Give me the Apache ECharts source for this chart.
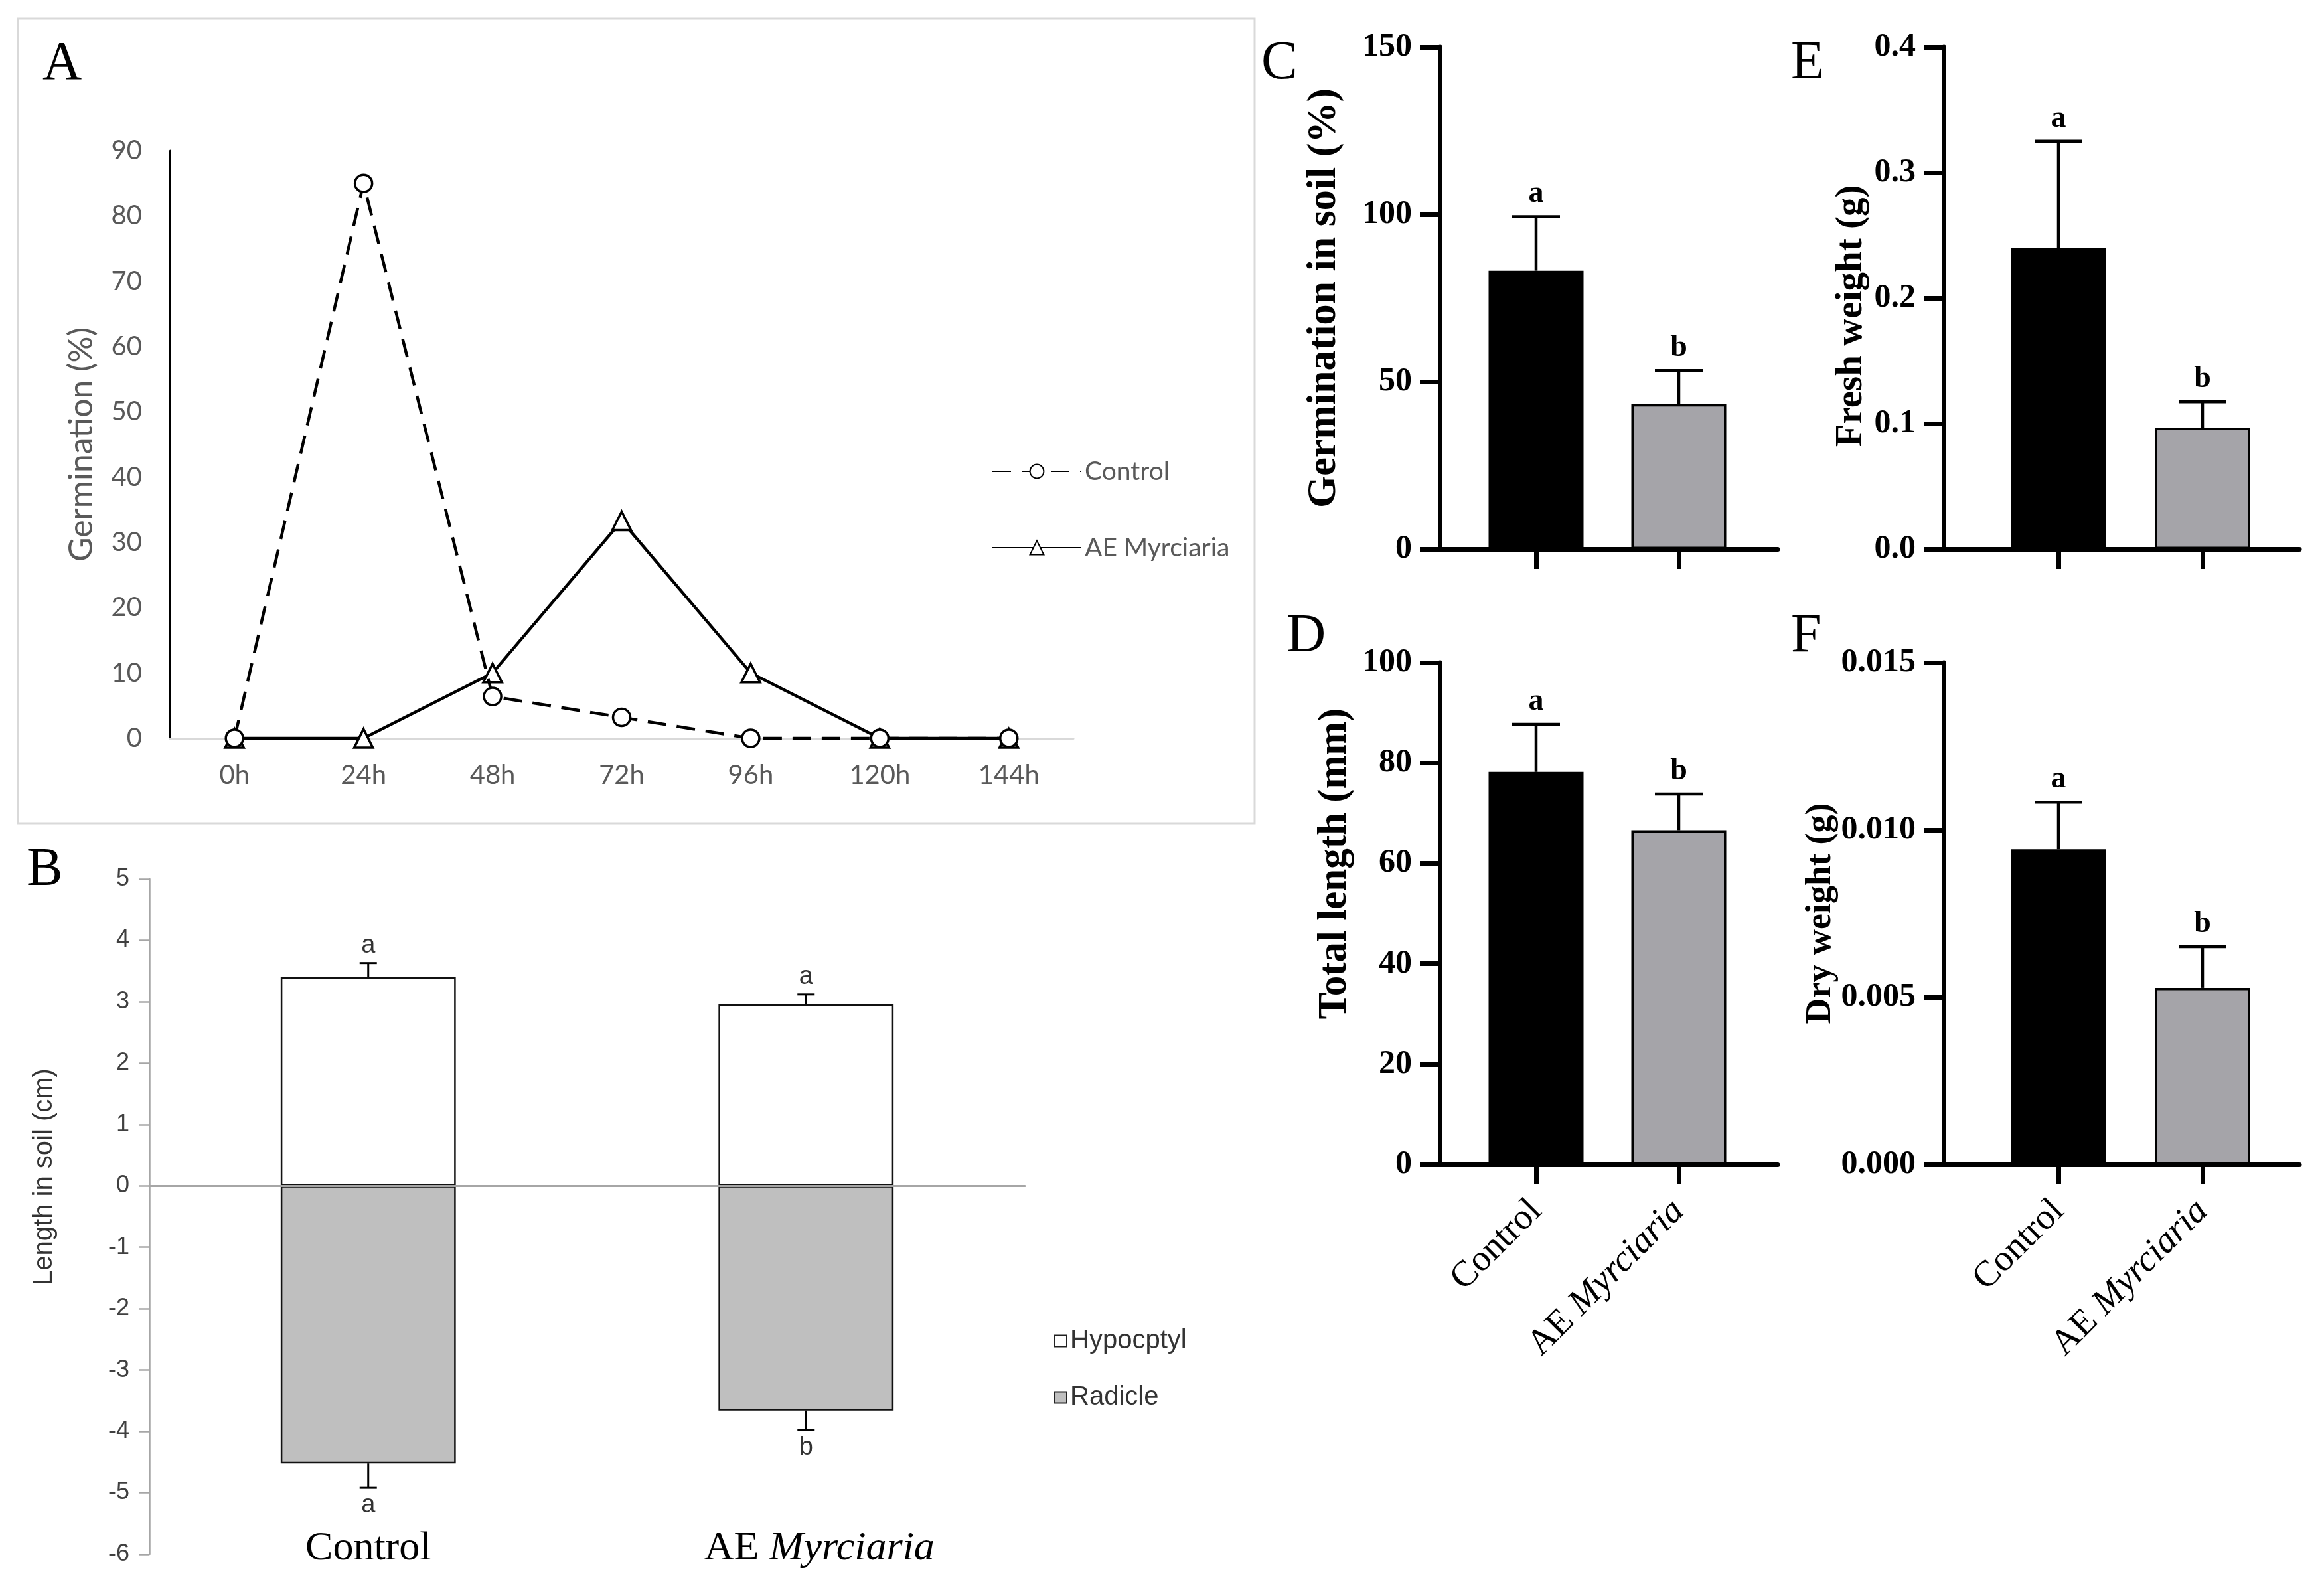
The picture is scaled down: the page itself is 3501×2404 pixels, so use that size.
<!DOCTYPE html>
<html>
<head>
<meta charset="utf-8">
<script src="https://cdn.jsdelivr.net/npm/echarts@6/dist/echarts.min.js"></script>
<style>
html,body{margin:0;padding:0;background:#fff;}
#chart{width:3501px;height:2404px;}
</style>
</head>
<body>
<div id="chart"></div>
<script>
// ---------- DATA ----------
// Panel A: germination over time
const hoursA = ['0h','24h','48h','72h','96h','120h','144h'];
const controlA = [0, 85, 6.4, 3.2, 0, 0, 0];
const aeA = [0, 0, 10, 33.3, 10, 0, 0];
const seriesNamesA = ['Control', 'AE Myrciaria'];

// Panel B: length in soil (cm)
const groupsB = ['Control', 'AE Myrciaria'];
const hypocotylB = [3.40, 2.96];
const hypocotylErrB = [0.23, 0.16];
const hypocotylSigB = ['a', 'a'];
const radicleB = [-4.52, -3.66];
const radicleErrB = [0.40, 0.32];
const radicleSigB = ['a', 'b'];
const seriesNamesB = ['Hypocptyl', 'Radicle'];

// Panels C-F
const groups = ['Control', 'AE Myrciaria'];
const germSoilC = [83.2, 43.3];
const germSoilErrC = [16.1, 10.0];
const germSoilSigC = ['a', 'b'];
const totalLenD = [78.2, 66.6];
const totalLenErrD = [9.5, 7.2];
const totalLenSigD = ['a', 'b'];
const freshWtE = [0.240, 0.0967];
const freshWtErrE = [0.085, 0.0206];
const freshWtSigE = ['a', 'b'];
const dryWtF = [0.00942, 0.00528];
const dryWtErrF = [0.00141, 0.00123];
const dryWtSigF = ['a', 'b'];

// ---------- STYLE ----------
const SERIF = '"Liberation Serif", "Times New Roman", serif';
const SANS = '"Liberation Sans", Arial, sans-serif';
const CAL = 'Lato, "Open Sans", sans-serif';
const barFills = ['#000000', '#a5a4a9'];

const chart = echarts.init(document.getElementById('chart'), null, {renderer: 'canvas'});

const grids = [], xAxes = [], yAxes = [], series = [];

function errSeries(xi, yi, means, errs, sig, o) {
  return {
    type: 'custom', xAxisIndex: xi, yAxisIndex: yi, z: 10, silent: true,
    data: means.map((m, i) => [i, m, errs[i]]),
    renderItem: function (params, api) {
      const i = api.value(0), m = api.value(1), e = api.value(2);
      const dir = m >= 0 ? 1 : -1;
      const p0 = api.coord([i, m]);
      const p1 = api.coord([i, m + dir * e]);
      const hw = o.cap / 2;
      return {
        type: 'group',
        children: [
          {type: 'line', shape: {x1: p0[0], y1: p0[1], x2: p1[0], y2: p1[1]}, style: {stroke: '#000', lineWidth: o.lw}},
          {type: 'line', shape: {x1: p1[0] - hw, y1: p1[1], x2: p1[0] + hw, y2: p1[1]}, style: {stroke: '#000', lineWidth: o.lw}},
          {type: 'text', x: p1[0], y: p1[1] - dir * o.gap,
           style: {text: sig[params.dataIndex], align: 'center', verticalAlign: 'middle',
                   fontSize: o.fs, fontFamily: o.ff, fontWeight: o.fw, fill: o.fc}}
        ]
      };
    }
  };
}

function speciesLabel(v) {
  return v.indexOf('AE ') === 0 ? 'AE {i|' + v.slice(3) + '}' : v;
}

// ---------- Panel A ----------
grids.push({left: 256, top: 227, width: 1361, height: 885});
xAxes.push({
  gridIndex: 0, type: 'category', data: hoursA, boundaryGap: true,
  axisLine: {lineStyle: {color: '#d9d9d9', width: 3}},
  axisTick: {show: false},
  axisLabel: {margin: 36, fontFamily: CAL, fontSize: 40, color: '#595959'}
});
yAxes.push({
  gridIndex: 0, type: 'value', min: 0, max: 90, interval: 10,
  axisLine: {show: true, lineStyle: {color: '#000', width: 3}},
  axisTick: {show: false}, splitLine: {show: false},
  axisLabel: {margin: 42, fontFamily: CAL, fontSize: 40, color: '#595959'},
  name: 'Germination (%)', nameLocation: 'middle', nameGap: 108,
  nameTextStyle: {fontFamily: CAL, fontSize: 50, color: '#595959'}
});
series.push({
  name: seriesNamesA[0], type: 'line', xAxisIndex: 0, yAxisIndex: 0, data: controlA,
  symbol: 'circle', symbolSize: 26, z: 5,
  lineStyle: {color: '#000', width: 4.5, type: [28, 16]},
  itemStyle: {color: '#fff', borderColor: '#000', borderWidth: 3.5}
});
series.push({
  name: seriesNamesA[1], type: 'line', xAxisIndex: 0, yAxisIndex: 0, data: aeA,
  symbol: 'triangle', symbolSize: 28, z: 4,
  lineStyle: {color: '#000', width: 4.5, type: 'solid'},
  itemStyle: {color: '#fff', borderColor: '#000', borderWidth: 3.5}
});

// ---------- Panel B ----------
grids.push({left: 225, top: 1324, width: 1319, height: 1017});
xAxes.push({
  gridIndex: 1, type: 'category', data: groupsB, z: 5,
  axisLine: {onZero: true, lineStyle: {color: '#a6a6a6', width: 3}},
  axisTick: {show: false}, axisLabel: {show: false}
});
xAxes.push({
  gridIndex: 1, type: 'category', data: groupsB, position: 'bottom',
  axisLine: {show: false, onZero: false}, axisTick: {show: false},
  axisLabel: {
    interval: 0, hideOverlap: false,
    margin: -8, verticalAlign: 'middle', fontFamily: SERIF, fontSize: 62, color: '#000',
    formatter: function (v) { return v.indexOf('AE ') === 0 ? '{sp| }AE {i|' + v.slice(3) + '}' : v; },
    rich: {
      i: {fontFamily: SERIF, fontSize: 62, fontStyle: 'italic', color: '#000'},
      sp: {width: 40, fontFamily: SERIF, fontSize: 62}
    }
  }
});
yAxes.push({
  gridIndex: 1, type: 'value', min: -6, max: 5, interval: 1,
  axisLine: {show: true, lineStyle: {color: '#a6a6a6', width: 2.5}},
  axisTick: {show: true, length: 16, lineStyle: {color: '#a6a6a6', width: 2.5}},
  splitLine: {show: false},
  axisLabel: {margin: 30, fontFamily: SANS, fontSize: 36, color: '#404040'},
  name: 'Length in soil (cm)', nameLocation: 'middle', nameGap: 138,
  nameTextStyle: {fontFamily: SANS, fontSize: 40, color: '#333', padding: [0, 0, 0, 120]}
});
series.push({
  name: seriesNamesB[0], type: 'bar', xAxisIndex: 1, yAxisIndex: 1, data: hypocotylB,
  barWidth: '40%', barGap: '-100%',
  itemStyle: {color: '#ffffff', borderColor: '#111', borderWidth: 2.5}
});
series.push({
  name: seriesNamesB[1], type: 'bar', xAxisIndex: 1, yAxisIndex: 1, data: radicleB,
  barWidth: '40%', barGap: '-100%',
  itemStyle: {color: '#bfbfbf', borderColor: '#111', borderWidth: 2.5}
});
const bErrOpt = {cap: 26, lw: 3, gap: 26, fs: 38, ff: SANS, fw: 'normal', fc: '#333'};
series.push(errSeries(1, 1, hypocotylB, hypocotylErrB, hypocotylSigB, bErrOpt));
series.push(errSeries(1, 1, radicleB, radicleErrB, radicleSigB, bErrOpt));

// ---------- Panels C-F ----------
function barPanel(p) {
  const gBars = grids.length;
  grids.push({left: p.barsLeft, top: p.top, width: p.barsWidth, height: p.height});
  const gLine = grids.length;
  grids.push({left: p.axisX, top: p.top, width: p.lineWidth, height: p.height});
  const xiBars = xAxes.length;
  xAxes.push({
    gridIndex: gBars, type: 'category', data: groups, boundaryGap: true,
    axisLine: {show: false},
    axisTick: {show: true, alignWithLabel: true, length: 30, lineStyle: {color: '#000', width: 7}},
    axisLabel: p.showLabels ? {
      interval: 0, rotate: 45, margin: 62, fontFamily: SERIF, fontSize: 55, color: '#000',
      formatter: speciesLabel,
      rich: {i: {fontFamily: SERIF, fontSize: 55, fontStyle: 'italic', color: '#000'}}
    } : {show: false}
  });
  xAxes.push({
    gridIndex: gLine, type: 'value', min: 0, max: 1,
    axisLine: {show: true, onZero: false, lineStyle: {color: '#000', width: 7}},
    axisTick: {show: false}, axisLabel: {show: false}, splitLine: {show: false}
  });
  const yiBars = yAxes.length;
  yAxes.push({
    gridIndex: gBars, type: 'value', min: p.min, max: p.max, interval: p.interval,
    offset: p.barsLeft - p.axisX,
    axisLine: {show: true, lineStyle: {color: '#000', width: 7}},
    axisTick: {show: true, length: 30, lineStyle: {color: '#000', width: 7}},
    splitLine: {show: false},
    axisLabel: {margin: 42, fontFamily: SERIF, fontWeight: 'bold', fontSize: 50, color: '#000',
                formatter: function (v) { return v.toFixed(p.decimals); }},
    name: p.name, nameLocation: 'middle', nameGap: p.nameGap,
    nameTextStyle: {fontFamily: SERIF, fontWeight: 'bold', fontSize: p.nameSize, color: '#000', padding: p.namePad}
  });
  yAxes.push({gridIndex: gLine, type: 'value', min: 0, max: 1, show: false});
  series.push({
    name: p.name, type: 'bar', xAxisIndex: xiBars, yAxisIndex: yiBars, barWidth: 143,
    data: p.values.map((v, i) => ({value: v, itemStyle: {color: barFills[i]}})),
    itemStyle: {borderColor: '#000', borderWidth: 3.5}
  });
  series.push(errSeries(xiBars, yiBars, p.values, p.errs, p.sig,
    {cap: 72, lw: 4.5, gap: 34, fs: 46, ff: SERIF, fw: 'bold', fc: '#000'}));
}

barPanel({axisX: 2169, barsLeft: 2206.5, barsWidth: 430, lineWidth: 509, top: 71, height: 756,
  min: 0, max: 150, interval: 50, decimals: 0, values: germSoilC, errs: germSoilErrC, sig: germSoilSigC,
  name: 'Germination in soil (%)', nameGap: 143, nameSize: 62, namePad: [0, 0, 0, 0], showLabels: false});
barPanel({axisX: 2169, barsLeft: 2206.5, barsWidth: 430, lineWidth: 509, top: 998, height: 756,
  min: 0, max: 100, interval: 20, decimals: 0, values: totalLenD, errs: totalLenErrD, sig: totalLenSigD,
  name: 'Total length (mm)', nameGap: 127, nameSize: 61, namePad: [0, 0, 0, 150], showLabels: true});
barPanel({axisX: 2928, barsLeft: 2992.5, barsWidth: 434, lineWidth: 536, top: 71, height: 756,
  min: 0, max: 0.4, interval: 0.1, decimals: 1, values: freshWtE, errs: freshWtErrE, sig: freshWtSigE,
  name: 'Fresh weight (g)', nameGap: 110, nameSize: 57, namePad: [0, 54, 0, 0], showLabels: false});
barPanel({axisX: 2928, barsLeft: 2992.5, barsWidth: 434, lineWidth: 536, top: 998, height: 756,
  min: 0, max: 0.015, interval: 0.005, decimals: 3, values: dryWtF, errs: dryWtErrF, sig: dryWtSigF,
  name: 'Dry weight (g)', nameGap: 151, nameSize: 54, namePad: [0, 0, 0, 0], showLabels: true});

const option = {
  backgroundColor: '#ffffff',
  animation: false,
  grid: grids, xAxis: xAxes, yAxis: yAxes, series: series,
  legend: [
    {
      data: seriesNamesA, orient: 'vertical', left: 1494, top: 690, padding: 0,
      itemWidth: 134, itemHeight: 26, itemGap: 75,
      textStyle: {fontFamily: CAL, fontSize: 39, color: '#595959', lineHeight: 40}
    },
    {
      data: seriesNamesB, orient: 'vertical', left: 1588, top: 2000, padding: 0,
      itemWidth: 18, itemHeight: 17, itemGap: 45, icon: 'rect',
      itemStyle: {borderColor: '#222', borderWidth: 2},
      textStyle: {fontFamily: SANS, fontSize: 40, color: '#333', lineHeight: 40}
    }
  ],
  graphic: [
    {type: 'rect', shape: {x: 27, y: 28, width: 1863, height: 1212}, style: {fill: 'none', stroke: '#d9d9d9', lineWidth: 3}},
    {type: 'text', left: 64, top: 56, style: {text: 'A', fontFamily: SERIF, fontSize: 82, fill: '#000'}},
    {type: 'text', left: 40, top: 1270, style: {text: 'B', fontFamily: SERIF, fontSize: 82, fill: '#000'}},
    {type: 'text', left: 1900, top: 55, style: {text: 'C', fontFamily: SERIF, fontSize: 82, fill: '#000'}},
    {type: 'text', left: 1938, top: 918, style: {text: 'D', fontFamily: SERIF, fontSize: 82, fill: '#000'}},
    {type: 'text', left: 2698, top: 55, style: {text: 'E', fontFamily: SERIF, fontSize: 82, fill: '#000'}},
    {type: 'text', left: 2698, top: 918, style: {text: 'F', fontFamily: SERIF, fontSize: 82, fill: '#000'}}
  ]
};
chart.setOption(option);
</script>
</body>
</html>
